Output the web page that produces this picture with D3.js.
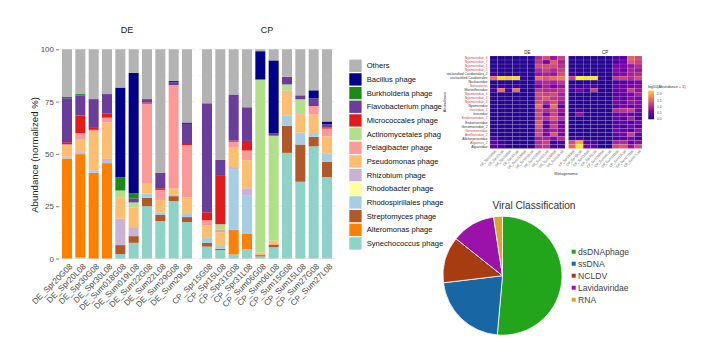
<!DOCTYPE html>
<html><head><meta charset="utf-8">
<script src="https://cdn.jsdelivr.net/npm/d3@7"></script>
<style>html,body{margin:0;padding:0;background:#fff;} svg{display:block;font-family:"Liberation Sans",Arial,Helvetica,sans-serif;}</style>
</head><body><svg id="c" width="709" height="359"></svg>
<script>
// ---------------- DATA ----------------
const samplesDE = ["DE_Spr20G08","DE_Spr20L08","DE_Spr30G08","DE_Spr30L08","DE_Sum018G08","DE_Sum019L08","DE_Sum22G08","DE_Sum22L08","DE_Sum29G08","DE_Sum29L08"];
const samplesCP = ["CP_Spr15G08","CP_Spr15L08","CP_Spr31G08","CP_Spr31L08","CP_Sum06G08","CP_Sum06L08","CP_Sum15G08","CP_Sum15L08","CP_Sum27G08","CP_Sum27L08"];
// series, stacked bottom -> top (values: DE samples then CP samples)
const synechococcus    = [0,0.5,0,0,2.1,7.5,25,17.9,27.4,17.4, 5.7,4,1.9,4.5,1,5.4,50.5,36.7,53.6,38.9];
const alteromonas      = [47.6,49.4,41,45.6,0,0,0,0,0,0, 0,0,11.5,7.5,0,0,0,0,0,0];
const streptomyces     = [0,0,0,0,4.3,3.2,4,2.9,2.4,2.4, 1.8,0.6,0.3,0,0.6,1.3,12.9,17.8,4.6,7.3];
const rhodospirillales = [0.6,0.6,1.0,1.0,0,0,2,1.3,0.6,1.9, 2.7,1.8,28.7,18.3,0,0,4.8,5.7,1.8,4.1];
const rhodobacter      = [0,0,0,0,0,0,0,0,0,0, 0,0,0,0,0,0,0,0,0,0];
const rhizobium        = [0.4,0.4,0.3,1.0,12.7,4.3,0,0,0,0, 0,0,1.3,3.3,0,0,0,0,0,0];
const pseudomonas      = [5.4,6.0,18.6,17.5,10.2,9.4,5.1,5.9,3.0,7.6, 5.7,6.2,9.6,13.4,1.3,1.8,11.5,8.6,8.8,8.1];
const pelagibacter     = [0.6,3.0,0.6,2.2,0,0,37.9,4.8,49.5,24.9, 2.4,1.1,2.5,4.6,0,0,0.6,0.6,4.1,3.7];
const actinomycetales  = [0,0,0,0,3.2,2.4,0,0,0,0, 0,2.7,0,0,82.5,50.2,2.9,6.7,0,0];
const micrococcales    = [1.0,8.5,1.3,1.9,0,0,0.6,0.8,0,1.0, 3.8,23.1,0.6,4.6,0,0,0,0,0,0.6];
const flavobacterium   = [21,9.6,13.4,9.4,0,1.9,1.6,7.3,1.3,9.2, 52.1,7.6,22,16.1,0.3,1.1,3.7,1.9,3.7,1.4];
const burkholderia     = [0.6,0.6,0,0,6.4,2.5,0,0,0,0, 0,0,0,0,0,0,0,0,0,0];
const bacillus         = [0,0,0,0,42.8,57.5,0,0,0.6,0.6, 0,0,0,0,13.4,34.9,0,0,3.8,1.4];
const others           = [22.8,21.4,23.8,21.4,18.3,11.3,23.8,59.1,15.2,35.0, 25.8,52.9,21.6,27.7,0.9,5.3,13.1,22.0,19.6,34.5];

const seriesNames = ["Synechococcus phage","Alteromonas phage","Streptomyces phage","Rhodospirillales phage","Rhodobacter phage","Rhizobium phage","Pseudomonas phage","Pelagibacter phage","Actinomycetales phag","Micrococcales phage","Flavobacterium phage","Burkholderia phage","Bacillus phage","Others"];
const seriesValues = [synechococcus,alteromonas,streptomyces,rhodospirillales,rhodobacter,rhizobium,pseudomonas,pelagibacter,actinomycetales,micrococcales,flavobacterium,burkholderia,bacillus,others];
const seriesColors = ["#8dd3c7","#ff7f00","#b15928","#a6cee3","#ffff99","#cab2d6","#fdbf6f","#fb9a99","#b2df8a","#e31a1c","#6a3d9a","#1b8a1b","#00008b","#b3b3b3"];
const yTicks = [0,25,50,75,100];

// heatmap
const heatRows = ["Nyamiviridae_6","Nyamiviridae_7","Nyamiviridae_1","Nyamiviridae_5","unclassified Caudovirales_2","unclassified Caudovirales","Nackaviridae","Nitrosovirus","Marseilleviridae","Nyamiviridae_4","Nyamiviridae_2","Nyamiviridae_3","Nyamiviridae","Inoviridae_2","Inoviridae","Endornaviridae_2","Endornaviridae","Genomoviridae_2","Genomoviridae","Anelloviridae_2","Alloherpesviridae","Algavirus_2","Algaviridae"];
const heatRowRed = [1,1,1,1,0,0,0,1,0,1,1,1,0,1,0,1,0,0,1,1,0,1,0];
const heatDE = [
 [0.1,0.1,0.1,0.1,0.1,0.1,1.0,1.3,0.8,1.2],
 [0.1,0.1,0.1,0.1,0.1,0.1,1.1,0.6,1.4,0.9],
 [0.1,0.1,0.1,0.1,0.1,0.1,1.3,1.3,1.3,1.0],
 [0.1,0.1,0.1,0.1,0.1,0.1,1.0,1.2,1.0,1.2],
 [0.2,0.1,0.1,0.1,0.1,0.1,0.8,0.9,0.8,1.3],
 [1.6,2.3,2.2,2.3,0.2,0.1,1.6,1.4,1.6,1.7],
 [0.1,0.1,0.1,0.1,0.1,0.1,0.9,1.0,0.9,1.1],
 [0.1,0.2,0.1,0.2,0.1,0.1,0.6,0.9,0.6,0.8],
 [0.3,1.6,0.3,1.6,0.1,0.1,1.1,1.0,1.0,1.1],
 [0.1,0.1,0.1,0.1,0.1,0.1,1.3,1.2,1.3,0.9],
 [0.1,0.1,0.1,0.1,0.1,0.1,1.2,1.4,1.1,1.0],
 [0.1,0.1,0.1,0.1,0.1,0.1,1.3,1.0,1.3,0.8],
 [0.1,0.1,0.1,0.1,0.1,0.1,1.6,0.5,1.6,0.4],
 [0.1,0.1,0.1,0.1,0.1,0.1,1.2,1.0,1.2,0.8],
 [0.1,0.1,0.1,0.1,0.1,0.1,1.3,0.6,1.2,0.6],
 [0.1,0.1,0.1,0.1,0.1,0.1,1.2,1.0,1.4,1.0],
 [0.1,0.1,0.1,0.1,0.1,0.1,1.4,0.5,1.0,0.5],
 [0.1,0.1,0.1,0.1,0.1,0.1,1.4,0.4,1.2,0.6],
 [0.1,0.1,0.1,0.1,0.1,0.1,1.2,0.7,0.9,0.7],
 [0.1,0.1,0.1,0.1,0.1,0.1,1.3,0.6,1.4,0.6],
 [0.3,0.1,0.1,0.1,0.1,0.1,0.9,0.9,0.7,1.0],
 [0.4,0.2,0.1,0.1,0.1,0.1,1.0,1.2,0.2,0.3],
 [0.4,0.3,0.1,0.1,0.1,0.1,1.0,1.1,0.3,0.3]];
const heatCP = [
 [0.1,0.1,0.1,0.1,0.1,0.1,0.4,0.4,1.5,1.3],
 [0.1,0.1,0.1,0.1,0.1,0.1,0.3,0.5,1.4,1.2],
 [0.1,0.1,0.1,0.1,0.1,0.1,0.6,0.6,0.8,1.0],
 [0.1,0.1,0.1,0.1,0.1,0.1,0.7,0.5,0.9,0.8],
 [0.2,0.1,0.1,0.1,0.1,0.1,0.6,0.7,0.9,1.0],
 [1.2,2.5,2.4,2.4,0.2,0.1,1.1,1.2,1.0,1.3],
 [0.1,0.1,0.1,0.1,0.1,0.1,0.3,0.4,0.5,0.6],
 [0.2,0.2,0.3,0.3,0.1,0.1,0.5,0.5,0.6,0.7],
 [0.3,0.6,0.3,1.2,0.1,0.1,0.5,0.6,1.2,0.8],
 [0.1,0.1,0.1,0.1,0.1,0.1,0.4,0.5,0.6,0.9],
 [0.1,0.1,0.1,0.1,0.1,0.1,0.5,0.4,0.7,0.6],
 [0.1,0.1,0.1,0.1,0.1,0.1,0.6,0.5,0.8,0.7],
 [0.1,0.1,0.1,0.1,0.1,0.1,0.4,0.6,0.5,0.6],
 [0.1,0.3,0.1,0.1,0.1,0.1,1.0,1.1,1.2,0.6],
 [0.1,0.8,0.1,0.1,0.1,0.1,0.5,0.6,0.5,0.4],
 [0.1,0.1,0.1,0.1,0.1,0.1,0.5,0.4,0.9,0.3],
 [0.1,0.1,0.1,0.1,0.1,0.1,0.4,0.5,0.3,0.6],
 [0.1,0.1,0.1,0.1,0.1,0.1,0.4,0.3,0.6,0.4],
 [0.1,0.1,0.1,0.1,0.1,0.1,0.6,0.5,0.4,0.8],
 [0.1,0.1,0.1,0.1,0.1,0.1,0.5,0.6,1.2,0.5],
 [0.2,0.3,0.1,0.1,0.1,0.1,0.3,0.4,0.6,0.2],
 [1.3,2.0,0.4,0.3,0.1,0.1,0.9,1.0,0.5,0.7],
 [1.5,2.4,0.6,0.5,0.1,0.1,1.3,1.4,0.8,1.3]];
const heatTicks = [0,0.5,1,1.5,2];

// pie
const pieLabels = ["dsDNAphage","ssDNA","NCLDV","Lavidaviridae","RNA"];
const pieValues = [51.4,21.7,12.6,11.9,2.4];
const pieColors = ["#22a41b","#1866a3","#a63c0f","#9b12a8","#d7a72a"];

// ---------------- DRAW ----------------
const svg = d3.select("#c");

// ===== stacked bar chart =====
const y = d3.scaleLinear().domain([0,100]).range([258.5,49.3]);
const allSamples = samplesDE.concat(samplesCP);
const table = allSamples.map((s,i)=>{const o={sample:s}; seriesNames.forEach((k,j)=>o[k]=seriesValues[j][i]); return o;});
const stacked = d3.stack().keys(seriesNames)(table);
const color = d3.scaleOrdinal().domain(seriesNames).range(seriesColors);

const panels = [
  {name:"DE", samples:samplesDE, x0:59, x1:195},
  {name:"CP", samples:samplesCP, x0:199, x1:335}
];
panels.forEach(p=>{
  p.x = d3.scaleBand().domain(p.samples).range([p.x0,p.x1]).paddingInner(0.25).paddingOuter(0.225);
  const g = svg.append("g");
  g.selectAll("line.minor").data(d3.range(12.5,100,25)).join("line")
    .attr("x1",p.x0).attr("x2",p.x1).attr("y1",d=>y(d)).attr("y2",d=>y(d))
    .attr("stroke","#f0f0f0").attr("stroke-width",0.5);
  g.selectAll("line.major").data(yTicks).join("line")
    .attr("x1",p.x0).attr("x2",p.x1).attr("y1",d=>y(d)).attr("y2",d=>y(d))
    .attr("stroke","#e6e6e6").attr("stroke-width",0.8);
  g.append("text").attr("x",(p.x0+p.x1)/2).attr("y",33.3).attr("text-anchor","middle")
    .attr("font-size",9).attr("fill","#1a1a1a").text(p.name);
  g.selectAll("text.xl").data(p.samples).join("text")
    .attr("transform",d=>`translate(${p.x(d)+p.x.bandwidth()/2+2},${263}) rotate(-45)`)
    .attr("text-anchor","end").attr("dy","0.7em").attr("font-size",8.2).attr("fill","#4d4d4d").text(d=>d);
});
stacked.forEach(layer=>{
  const g = svg.append("g").attr("fill",color(layer.key));
  g.selectAll("rect").data(layer.filter(d=>d[1]-d[0]>0)).join("rect")
    .attr("x",d=>{const p = panels.find(pp=>pp.samples.includes(d.data.sample)); return p.x(d.data.sample);})
    .attr("width",panels[0].x.bandwidth())
    .attr("y",d=>y(d[1])).attr("height",d=>y(d[0])-y(d[1]));
});
const yAxis = svg.append("g").attr("transform","translate(59,0)")
  .call(d3.axisLeft(y).tickValues(yTicks).tickSize(3).tickPadding(2));
yAxis.select(".domain").remove();
yAxis.selectAll(".tick line").attr("stroke","#333").attr("stroke-width",0.6);
yAxis.selectAll(".tick text").attr("font-size",8).attr("fill","#4d4d4d").attr("font-family","Liberation Sans, Arial, sans-serif");
svg.append("text").attr("transform","translate(38,155) rotate(-90)").attr("text-anchor","middle")
  .attr("font-size",9.6).attr("fill","#1a1a1a").text("Abundance (normalized %)");

const legendKeys = seriesNames.slice().reverse();
const lg = svg.append("g");
legendKeys.forEach((k,i)=>{
  const cy = 65.7 + i*13.67;
  lg.append("rect").attr("x",349.3).attr("y",cy-6.1).attr("width",12.3).attr("height",12.3).attr("fill",color(k));
  lg.append("text").attr("x",366.7).attr("y",cy).attr("dy","0.35em").attr("font-size",7.6).attr("fill","#111").text(k);
});

// ===== heatmap =====
const hy = d3.scaleBand().domain(heatRows).range([56,148.5]);
const heatColor = d3.scaleSequential(d3.interpolatePlasma).domain([0,2.5]);
const hpanels = [
  {name:"DE", samples:samplesDE, data:heatDE, x0:490, x1:565},
  {name:"CP", samples:samplesCP, data:heatCP, x0:568.5, x1:642}
];
hpanels.forEach(p=>{
  const hx = d3.scaleBand().domain(p.samples).range([p.x0,p.x1]);
  const g = svg.append("g");
  p.data.forEach((row,ri)=>{
    g.selectAll(null).data(row).join("rect")
      .attr("x",(d,ci)=>hx(p.samples[ci])).attr("y",hy(heatRows[ri]))
      .attr("width",hx.bandwidth()).attr("height",hy.bandwidth())
      .attr("fill",d=>heatColor(d)).attr("stroke","#ffffff").attr("stroke-opacity",0.35).attr("stroke-width",0.3);
  });
  g.append("text").attr("x",(p.x0+p.x1)/2).attr("y",53.5).attr("text-anchor","middle")
    .attr("font-size",4.5).attr("fill","#1a1a1a").text(p.name);
  g.selectAll("text.hx").data(p.samples).join("text")
    .attr("transform",d=>`translate(${hx(d)+hx.bandwidth()/2+1},${150}) rotate(-45)`)
    .attr("text-anchor","end").attr("dy","0.7em").attr("font-size",3.3).attr("fill","#4d4d4d").text(d=>d);
});
svg.append("g").selectAll("text").data(heatRows).join("text")
  .attr("x",487.5).attr("y",d=>hy(d)+hy.bandwidth()/2).attr("dy","0.35em").attr("text-anchor","end")
  .attr("font-size",3.3).attr("fill",(d,i)=>heatRowRed[i]?"#d6404e":"#333").text(d=>d);
svg.append("text").attr("transform","translate(446,102) rotate(-90)").attr("text-anchor","middle")
  .attr("font-size",4).attr("fill","#333").text("Abundance");
svg.append("text").attr("x",566).attr("y",175).attr("text-anchor","middle")
  .attr("font-size",4).attr("fill","#333").text("Metagenome");
const cb = d3.scaleLinear().domain([0,2.27]).range([119.3,90.7]);
const defs = svg.append("defs");
const grad = defs.append("linearGradient").attr("id","plasmaGrad").attr("x1",0).attr("x2",0).attr("y1",1).attr("y2",0);
d3.range(0,1.0001,0.1).forEach(t=>grad.append("stop").attr("offset",t).attr("stop-color",heatColor(t*2.27)));
svg.append("rect").attr("x",648.3).attr("y",90.7).attr("width",5.7).attr("height",28.6).attr("fill","url(#plasmaGrad)");
svg.append("text").attr("x",648).attr("y",87.5).attr("font-size",3.8).attr("fill","#333").text("log10(Abundance + 1)");
svg.append("g").selectAll("text").data(heatTicks).join("text")
  .attr("x",657).attr("y",d=>cb(d)).attr("dy","0.35em").attr("font-size",3.3).attr("fill","#4d4d4d").text(d=>d.toFixed(1));

// ===== pie =====
const pie = d3.pie().sort(null).value(d=>d)(pieValues);
const arc = d3.arc().innerRadius(0).outerRadius(59.5);
svg.append("g").attr("transform","translate(502.5,275.7)")
  .selectAll("path").data(pie).join("path").attr("d",arc)
  .attr("fill",(d,i)=>pieColors[i]).attr("stroke","#fff").attr("stroke-width",0.8);
svg.append("text").attr("x",534).attr("y",209).attr("text-anchor","middle").attr("font-size",10.2).attr("fill","#333").text("Viral Classification");
pieLabels.forEach((l,i)=>{
  const cy = 251.7 + i*12;
  svg.append("rect").attr("x",571.7).attr("y",cy-2).attr("width",4).attr("height",4).attr("fill",pieColors[i]);
  svg.append("text").attr("x",578).attr("y",cy).attr("dy","0.35em").attr("font-size",8.6).attr("fill","#444").text(l);
});
</script></body></html>
